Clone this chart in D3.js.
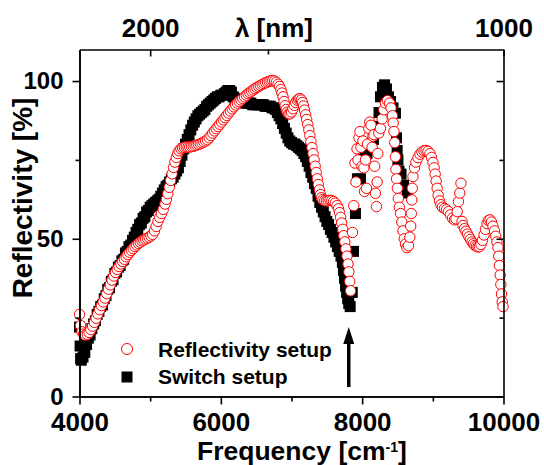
<!DOCTYPE html>
<html>
<head>
<meta charset="utf-8">
<script src="https://cdn.jsdelivr.net/npm/d3@7"></script>
<style>
  body { margin: 0; background: #fff; }
  svg text { font-family: "Liberation Sans", Arial, sans-serif; font-weight: bold; }
</style>
</head>
<body>
<script>
"use strict";

// ---- data: [frequency cm^-1, reflectivity %] ----
const reflectivitySetup = [
  [4000,26],[4015,22.5],[4035,20.5],[4060,19.8],[4085,19.5],[4110,19.7],[4135,20.3],[4160,21.2],[4185,22.3],[4210,23.5],
  [4235,24.8],[4260,26.2],[4285,27.5],[4310,28.8],[4335,30],[4360,31.2],[4385,32.6],[4410,34],[4435,35.4],[4460,36.9],
  [4485,38.2],[4510,39.3],[4535,40.3],[4560,41.2],[4585,42],[4610,42.8],[4635,43.5],[4660,44.3],[4685,45],[4710,45.7],
  [4735,46.3],[4760,46.9],[4785,47.5],[4810,48],[4835,48.5],[4860,48.9],[4885,49.3],[4910,49.6],[4935,49.9],[4960,50.2],
  [4985,50.5],[5010,50.9],[5035,51.4],[5060,52.5],[5085,53.9],[5110,55.5],[5135,56.8],[5160,58],[5185,59.3],[5210,61],
  [5230,62.5],[5250,64.3],[5270,66.3],[5290,68.5],[5310,70.6],[5330,72.6],[5350,74.3],[5370,75.8],[5390,77],[5410,77.9],
  [5435,78.5],[5460,78.8],[5485,79],[5510,79.1],[5535,79.1],[5560,79.1],[5585,79.2],[5610,79.3],[5635,79.5],[5660,79.7],
  [5685,79.9],[5710,80.1],[5735,80.4],[5760,80.7],[5785,81],[5810,81.4],[5835,82],[5860,82.7],[5885,83.5],[5910,84.2],
  [5935,84.9],[5960,85.6],[5985,86.3],[6010,87],[6035,87.7],[6060,88.4],[6085,89.1],[6110,89.8],[6135,90.5],[6160,91.2],
  [6185,91.8],[6210,92.4],[6235,93],[6260,93.5],[6285,94],[6310,94.5],[6335,95],[6360,95.5],[6385,96],[6410,96.4],
  [6435,96.8],[6460,97.2],[6485,97.6],[6510,98],[6535,98.3],[6560,98.6],[6585,98.9],[6610,99.2],[6635,99.5],[6660,99.7],
  [6685,99.9],[6710,100.1],[6735,100.2],[6760,100],[6785,99.6],[6810,99],[6830,98.3],[6850,97.3],[6865,96.2],[6880,95],
  [6895,93.5],[6910,92.2],[6925,91],[6940,90.1],[6960,89.6],[6980,89.6],[7000,90.2],[7020,91.2],[7040,92.3],[7060,93.2],
  [7080,93.9],[7100,94.3],[7120,94.4],[7140,94],[7155,93.2],[7170,92.1],[7185,90.8],[7200,89.3],[7215,87.8],[7230,86.2],
  [7245,84.5],[7260,82.7],[7275,80.8],[7290,78.9],[7305,77],[7320,75],[7335,73],[7350,71],[7365,69],[7380,67.2],
  [7395,65.5],[7410,64],[7425,63],[7445,62.4],[7470,62.1],[7495,62],[7520,62.1],[7545,62.2],[7570,62.1],[7595,61.8],
  [7620,61.3],[7645,60.5],[7665,59.5],[7680,58.3],[7695,56.8],[7710,55],[7725,53],[7740,51],[7755,49],[7770,46.8],
  [7785,44.5],[7800,42],[7812,39.5],[7824,36.5],[7836,33.5],
  [7863,52],[7881,60.5],[7898,74],[7912,68],[7927,78.5],[7941,75],[7955,82],[7969,84],[7983,79],[7997,73],
  [8011,81],[8023,72.5],[8033,65],[8047,75],[8061,66],[8075,80],[8094,85],[8108,87],[8125,86],[8141,79],
  [8153,82.5],[8167,83],[8177,73],[8188,64.4],[8202,60.2],[8212,68],[8221,77],[8235,83.5],[8259,85],[8283,88],
  [8306,90.9],[8330,93],[8358,93.8],[8387,93],[8408,91.5],[8428,89],[8439,86.7],[8450,84],[8460,80.5],[8470,76],
  [8478,72],[8487,69],[8498,66],[8512,62.8],[8526,60],[8544,58],[8561,55.3],[8578,52.5],[8596,50],[8613,48.3],
  [8634,47.2],[8655,47.8],[8674,50.5],[8687,54],[8695,58],[8702,62.3],[8709,66],[8719,69.7],[8740,72.5],[8761,74.3],
  [8790,75.7],[8818,76.8],[8846,77.5],[8875,77.9],[8903,78],[8931,77.7],[8959,77],[8981,75.8],[9002,74.2],[9019,72.5],
  [9033,70.5],[9047,68.3],[9061,66],[9075,63.8],[9094,62],[9115,60.8],[9136,60],[9165,59.6],[9193,59.2],[9221,58.6],
  [9250,57.6],[9278,56.5],[9306,56],[9327,56.3],[9346,58.6],[9363,61.8],[9381,64.5],[9398,67.6],[9413,55.5],[9427,54.2],
  [9448,53.2],[9469,52.4],[9490,51.5],[9511,50.6],[9533,49.8],[9554,49],[9575,48.4],[9596,47.9],[9618,47.6],[9639,47.4],
  [9660,47.5],[9681,48.2],[9702,49.5],[9724,51.2],[9745,53],[9766,54.8],[9787,55.8],[9809,56],[9830,55.3],[9851,54],
  [9872,52.5],[9890,50.8],[9907,49],[9922,47.2],[9933,44.5],[9943,41.5],[9953,38.5],[9962,35.5],[9972,32.5],[9982,30],
  [9993,28.5]
];

const switchSetup = [
  [4000,22],[4008,16],[4016,12],[4025,11.5],[4050,12.5],[4075,14],[4100,16.5],[4125,18.5],[4150,19.5],[4175,21.5],
  [4200,23],[4225,24],[4250,26],[4275,27],[4300,28.5],[4325,29],[4350,31],[4375,32],[4400,34],[4425,34.5],
  [4450,36.5],[4475,37],[4500,39],[4525,39.5],[4550,41],[4575,41.5],[4600,43],[4625,43.5],[4650,45.5],[4675,46],
  [4700,47.5],[4725,48],[4750,49.5],[4775,50.5],[4800,52],[4825,53],[4850,54.5],[4875,55],[4900,56.5],[4925,57],
  [4950,58.5],[4975,59],[5000,60],[5025,60.5],[5050,61],[5075,61.5],[5100,62],[5125,62.5],[5150,63.5],[5175,64.5],
  [5200,65.5],[5225,66.5],[5250,67],[5275,68],[5300,69],[5325,69.5],[5350,70.5],[5375,71.5],[5400,72.5],[5425,74.5],
  [5450,76.5],[5475,78.5],[5500,80],[5525,81.5],[5550,83],[5575,84.5],[5600,86],[5625,87],[5650,88],[5675,89],
  [5700,89.5],[5725,90],[5750,90.5],[5775,91],[5800,92],[5825,92.5],[5850,93],[5875,93.5],[5900,94],[5925,94.5],
  [5950,95],[5975,95],[6000,95.5],[6025,95.5],[6050,96],[6075,96.5],[6100,97],[6125,97],[6150,96.5],[6175,95],
  [6200,94.5],[6225,94],[6250,94],[6275,93.5],[6300,93.5],[6325,93.5],[6350,93],[6375,93],[6400,93],[6425,93],
  [6450,92.5],[6475,92.5],[6500,92.5],[6525,92.5],[6550,92.5],[6575,92.5],[6600,92.5],[6625,92],[6650,92],[6675,92],
  [6700,92],[6725,91.5],[6750,91.5],[6775,91],[6800,90],[6825,89],[6850,88],[6875,86.5],[6900,85],[6925,83.5],
  [6950,82],[6975,81],[7000,80.5],[7025,80],[7050,80],[7075,79.5],[7100,79],[7125,78.5],[7150,78],[7175,77],
  [7200,76],[7225,74.5],[7250,73],[7275,71],[7300,69.5],[7325,67.5],[7350,66],[7375,63.5],[7400,61.5],[7425,60],
  [7450,58.5],[7475,57],[7500,55.5],[7525,54.5],[7550,53],[7575,52],[7600,50.5],[7625,49],[7650,47.5],[7675,46],
  [7700,44.5],[7720,42.5],[7735,40],[7750,37.5],[7765,35],[7780,33],[7795,31],[7810,29.5],[7830,28.5],[7860,33],
  [7877,46],[7905,58],[7933,69],[7976,69],[8019,75.5],[8068,77],[8118,80.3],[8160,81.5],[8212,85.6],[8238,90],
  [8259,95],[8287,98],[8316,98.8],[8344,97.5],[8373,95],[8401,93.5],[8436,91.5],[8471,89.8],[8486,82],[8495,78],
  [8506,75],[8521,71.5],[8550,70.5],[8585,67],[8637,64.5]
];

const seriesNames = ["Reflectivity setup", "Switch setup"];
const freqTicks = [4000, 6000, 8000, 10000];
const freqMinor = [5000, 7000, 9000];
const reflTicks = [0, 50, 100];
const reflMinor = [25, 75];
const lambdaTicks = [2000, 1000];   // nm
const lambdaMinor = [1500];
const arrowMark = { freq: 7810, from: 3, to: 22 };

const width = 544;
const height = 465;
const margin = { top: 49.5, right: 40.5, bottom: 68.5, left: 79.5 };

let svg = d3.select("body").append("svg")
    .attr("width", width)
    .attr("height", height);

let x = d3.scaleLinear()
    .domain([4000, 10000])
    .range([margin.left, width - margin.right]);

let y = d3.scaleLinear()
    .domain([0, 110])
    .range([height - margin.bottom, margin.top]);

const toFreq = nm => 1e7 / nm;

// series
svg.append("g")
    .selectAll("rect")
    .data(switchSetup)
    .enter()
    .append("rect")
    .attr("x", d => x(d[0]) - 5.5)
    .attr("y", d => y(d[1]) - 5.5)
    .attr("width", 11)
    .attr("height", 11)
    .style("fill", "#000");

svg.append("g")
    .selectAll("circle")
    .data(reflectivitySetup)
    .enter()
    .append("circle")
    .attr("cx", d => x(d[0]))
    .attr("cy", d => y(d[1]))
    .attr("r", 5.2)
    .style("fill", "#fff")
    .style("stroke", "#ff0000")
    .style("stroke-width", 1);

// axes
function styleAxis(g, fs) {
    g.select(".domain").attr("stroke", "#000").attr("stroke-width", 1.6);
    g.selectAll(".tick line").attr("stroke", "#000").attr("stroke-width", 1.6);
    g.selectAll("text").style("font-size", fs + "px").attr("fill", "#000");
}

let bottomAxis = svg.append("g")
    .attr("transform", `translate(0,${y(0)})`)
    .call(d3.axisBottom(x).tickValues(freqTicks).tickFormat(d3.format("d"))
        .tickSize(8).tickPadding(8).tickSizeOuter(0));
styleAxis(bottomAxis, 26);
svg.append("g")
    .attr("transform", `translate(0,${y(0)})`)
    .call(d3.axisBottom(x).tickValues(freqMinor).tickSize(5).tickFormat("").tickSizeOuter(0))
    .call(g => styleAxis(g, 10));

let leftAxis = svg.append("g")
    .attr("transform", `translate(${x(4000)},0)`)
    .call(d3.axisLeft(y).tickValues(reflTicks).tickFormat(d3.format("d"))
        .tickSize(7).tickPadding(9).tickSizeOuter(0));
styleAxis(leftAxis, 24);
svg.append("g")
    .attr("transform", `translate(${x(4000)},0)`)
    .call(d3.axisLeft(y).tickValues(reflMinor).tickSize(4).tickFormat("").tickSizeOuter(0))
    .call(g => styleAxis(g, 10));

svg.append("g")
    .attr("transform", `translate(${x(10000)},0)`)
    .call(d3.axisRight(y).tickValues(reflTicks).tickSize(-7).tickFormat("").tickSizeOuter(0))
    .call(g => styleAxis(g, 10));
svg.append("g")
    .attr("transform", `translate(${x(10000)},0)`)
    .call(d3.axisRight(y).tickValues(reflMinor).tickSize(-4).tickFormat("").tickSizeOuter(0))
    .call(g => g.select(".domain").remove())
    .call(g => styleAxis(g, 10));

let topAxis = svg.append("g")
    .attr("transform", `translate(0,${margin.top})`)
    .call(d3.axisTop(x).tickValues(lambdaTicks.map(toFreq)).tickSize(-7).tickPadding(12.5)
        .tickFormat(v => String(Math.round(1e7 / v))).tickSizeOuter(0));
styleAxis(topAxis, 26);
svg.append("g")
    .attr("transform", `translate(0,${margin.top})`)
    .call(d3.axisTop(x).tickValues(lambdaMinor.map(toFreq)).tickSize(-5).tickFormat("").tickSizeOuter(0))
    .call(g => g.select(".domain").remove())
    .call(g => styleAxis(g, 10));

// titles
let xTitle = svg.append("text")
    .attr("x", 197)
    .attr("y", 459.5)
    .style("font-size", "26.5px");
xTitle.append("tspan").text("Frequency [cm");
xTitle.append("tspan").attr("dy", -8).style("font-size", "14px").text("-1");
xTitle.append("tspan").attr("dy", 8).text("]");

svg.append("text")
    .attr("transform", `translate(32,${(y(0) + y(110)) / 2 - 25}) rotate(-90)`)
    .attr("text-anchor", "middle")
    .style("font-size", "28px")
    .text("Reflectivity [%]");

svg.append("text")
    .attr("x", x(toFreq(1500)) + 6)
    .attr("y", 37)
    .attr("text-anchor", "middle")
    .style("font-size", "26px")
    .text("\u03bb [nm]");

// legend
let legend = svg.append("g");
legend.append("circle")
    .attr("cx", 127).attr("cy", 349).attr("r", 5.5)
    .style("fill", "#fff").style("stroke", "#ff0000").style("stroke-width", 1);
legend.append("rect")
    .attr("x", 121.5).attr("y", 371.5).attr("width", 11).attr("height", 11)
    .style("fill", "#000");
legend.selectAll("text")
    .data(seriesNames)
    .enter()
    .append("text")
    .attr("x", 158)
    .attr("y", (d, i) => 357 + i * 27)
    .style("font-size", "21px")
    .text(d => d);

// arrow marking the switching frequency
let ax = x(arrowMark.freq);
svg.append("line")
    .attr("x1", ax).attr("x2", ax)
    .attr("y1", y(arrowMark.from)).attr("y2", y(arrowMark.to) + 12)
    .attr("stroke", "#000").attr("stroke-width", 3.5);
svg.append("path")
    .attr("d", `M${ax},${y(arrowMark.to)} L${ax - 5.5},${y(arrowMark.to) + 17} L${ax + 5.5},${y(arrowMark.to) + 17} Z`)
    .style("fill", "#000");
</script>
</body>
</html>
